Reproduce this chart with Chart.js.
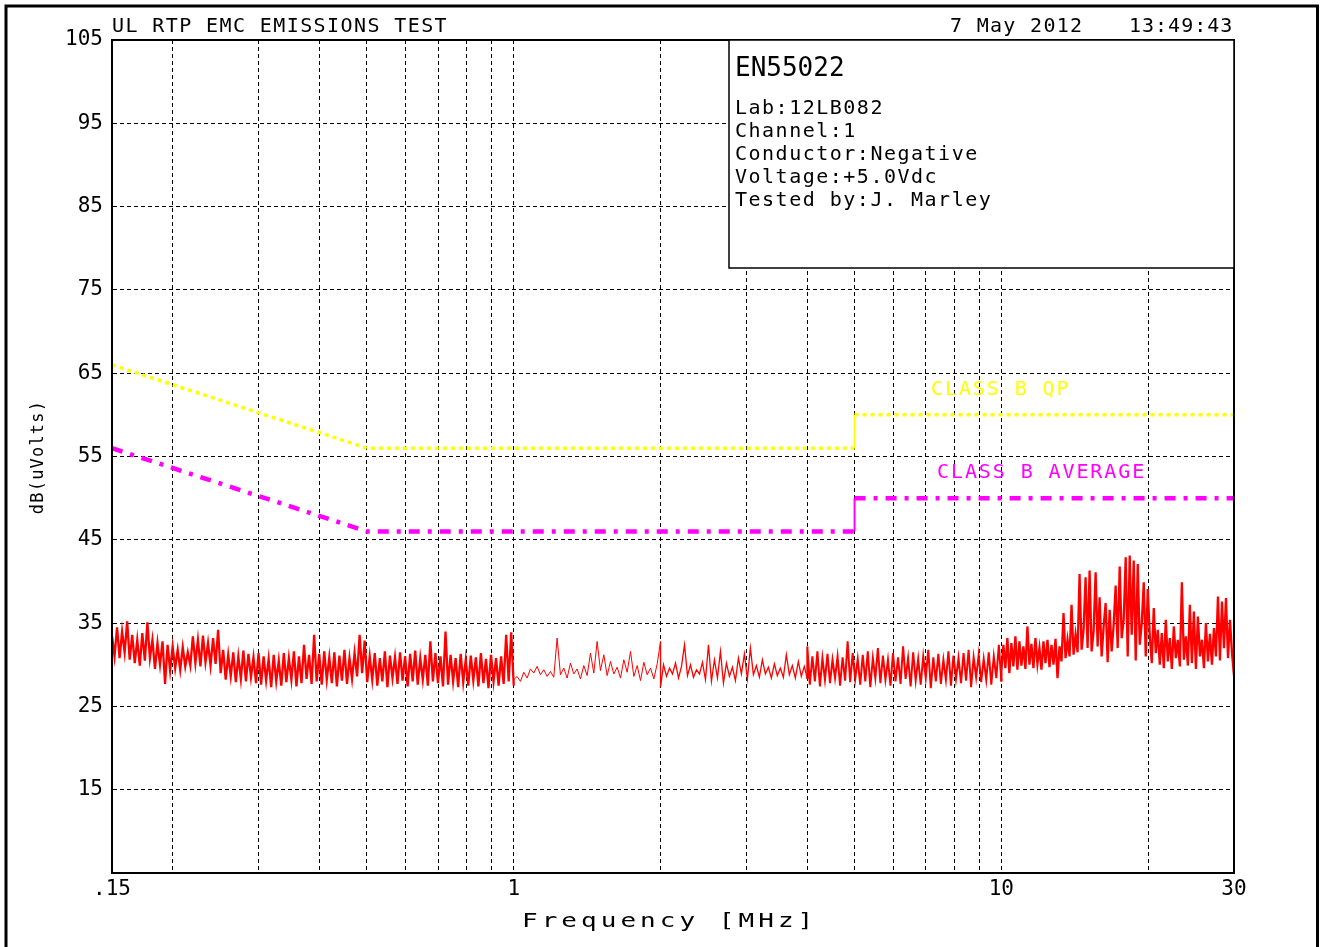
<!DOCTYPE html>
<html>
<head>
<meta charset="utf-8">
<title>UL RTP EMC Emissions Test</title>
<script src="https://cdn.jsdelivr.net/npm/chart.js@4.4.1/dist/chart.umd.min.js"></script>
<style>
    html, body { margin: 0; padding: 0; background: #fff; }
    canvas { display: block; }
</style>
</head>
<body>
<canvas id="emcChart" width="1320" height="947"></canvas>
<script>
const sweepEdges = [0.15, 1.0, 2.0, 4.0, 10.0, 30.0];

const levels015to1 = [
    33.5, 31.0, 34.5, 30.8, 34.0, 31.5, 35.2, 30.6,
    33.6, 30.2, 33.0, 29.9, 33.8, 30.5,
    35.1, 30.8,
    33.0, 29.5, 32.6, 30.0, 32.8, 27.7, 32.4, 29.3,
    32.2, 29.6, 31.8, 29.4, 32.1, 29.8, 31.5,
    29.9, 33.4, 30.2, 33.0, 29.8, 33.5, 30.3, 32.6, 29.9, 33.2, 30.1, 34.2,
    29.0, 31.8, 28.2, 31.2, 28.6, 31.5, 27.9, 31.0, 28.3, 31.7, 28.0, 31.3, 28.5, 30.9, 27.8, 31.4,
    27.6, 31.0, 28.1, 30.7, 27.3, 31.2, 28.0, 30.5, 27.5, 31.4, 27.9, 30.8, 28.2, 31.6, 27.4, 31.0,
    27.8, 32.4, 28.3, 31.2, 27.7, 33.6,
    28.0, 31.3, 27.6, 31.6, 28.2, 30.9, 27.8, 31.5, 27.4, 31.1, 28.1, 31.8, 27.7, 30.8, 28.3, 31.4, 28.6,
    33.6, 29.0, 32.9,
    27.9, 31.0, 28.2, 31.4, 27.5, 30.8, 28.0, 31.6, 27.3, 31.1, 28.4, 30.9, 27.7, 31.5, 28.1, 31.0,
    27.4, 31.3, 28.0, 31.7, 27.6, 30.8, 28.2, 31.2, 27.5, 32.8, 28.0, 31.4, 27.8, 31.0, 27.4, 34.0,
    27.6, 31.2, 28.0, 30.8, 27.3, 31.3, 27.9, 30.6, 27.5, 31.1, 28.1, 30.9, 27.4, 31.4, 27.8, 30.7,
    27.2, 31.2, 28.0, 30.8, 27.5, 31.0, 27.7,
    33.6, 28.0, 33.9, 27.5
];

const levels1to2 = [
    28.2, 28.6, 28.0, 29.1, 28.4, 29.5, 29.0, 29.8, 28.8, 29.4, 28.6, 29.2,
    28.5, 33.2, 28.8,
    29.6, 28.4, 30.2, 28.9, 29.5, 28.3, 29.9, 28.7,
    31.4, 29.0, 32.8, 29.3, 31.2,
    28.7, 30.4, 28.9, 29.7, 28.4, 30.6, 29.1, 31.6,
    28.6, 29.9, 28.1, 30.3, 28.8, 29.6, 28.3, 30.1, 32.8
];

const levels2to4 = [
    27.3, 30.0, 28.6, 29.6, 28.9, 30.2, 28.4, 29.8, 32.4, 28.7,
    30.0, 28.5, 29.4, 28.9, 30.3, 28.2, 32.4, 28.0, 30.6, 28.4,
    31.6, 27.8, 30.2, 28.6, 29.7, 28.1, 30.8, 28.9, 31.3, 28.3,
    32.0, 28.8, 29.9, 28.5, 30.6, 28.9, 29.7, 28.4, 30.1, 28.7,
    29.6, 28.5, 31.2, 28.8, 29.9, 28.4, 30.4, 28.6, 29.8, 28.3
];

const levels4to10 = [
    32.2, 27.6, 31.0, 28.0, 31.6, 27.4, 30.8, 28.2, 31.3, 27.8, 30.6, 28.4, 31.0, 27.5, 30.9, 28.1, 32.8, 27.9, 31.4, 28.3,
    30.7, 27.6, 31.2, 28.0, 31.6, 27.3, 30.8, 28.4, 32.0, 27.8, 31.1, 28.2, 30.6, 27.5, 31.4, 28.0, 30.9, 27.7, 32.2, 28.3,
    30.8, 27.4, 31.5, 28.1, 30.7, 27.6, 31.0, 28.4, 31.8, 27.2, 30.9, 28.0, 31.3, 27.7, 30.6, 28.2, 31.6, 27.5, 31.1, 28.3,
    30.8, 27.8, 31.4, 28.1, 31.8, 27.3, 30.9, 28.5, 31.2, 27.9, 30.7, 28.2, 31.5, 27.6, 31.0, 28.4, 32.4, 28.0
];

const levels10to30 = [
    29.2, 32.4, 29.6, 33.2, 29.0, 32.6, 29.8, 33.4, 29.4,
    32.8, 29.9, 32.2, 29.5, 34.6, 30.0,
    32.5, 29.6, 33.2, 30.1, 32.0, 29.4, 32.8, 30.2, 33.0, 29.7, 32.4, 30.0, 33.1, 28.4, 32.2,
    30.4, 36.2, 30.8, 33.0, 31.0, 37.2, 31.2, 33.6, 31.5,
    40.9, 31.8, 34.2, 40.5, 32.0, 41.3, 31.6, 34.0, 41.1, 32.2,
    38.1, 31.0, 34.6, 37.4, 30.3, 36.6, 31.6,
    34.8, 39.5, 32.0, 41.8, 33.2, 35.4, 42.9, 31.0, 43.1, 33.6, 42.5, 30.5, 42.1, 32.4,
    35.0, 39.9, 31.0, 39.1, 33.5, 30.2, 36.8, 31.4, 34.2,
    30.0, 33.8, 29.6, 35.4, 30.4, 33.2, 29.5, 34.6, 30.8, 33.0, 29.8,
    39.9, 30.6, 33.4, 29.9,
    37.2, 30.2, 36.4, 29.5, 35.8, 31.0, 33.0, 29.6,
    35.0, 30.4, 33.7, 30.0, 34.4,
    31.0, 38.2, 30.5, 37.6, 32.0, 38.0, 30.8, 35.4, 31.4, 28.7
];

// EN55022 class B limits
const limitFreq = [0.15, 0.5, 5, 5, 30];
const qpLimit = [66, 56, 56, 60, 60];
const avgLimit = [56, 46, 46, 50, 50];

// Axis ticks
const gridFreqs = [0.15, 0.2, 0.3, 0.4, 0.5, 0.6, 0.7, 0.8, 0.9, 1, 2, 3, 4, 5, 6, 7, 8, 9, 10, 20, 30];
const freqLabels = { 0.15: '.15', 1: '1', 10: '10', 30: '30' };

const FONT = "'DejaVu Sans Mono', monospace";

function sweep(fStart, fStop, levels) {
    const n = levels.length;
    return levels.map((v, i) => ({
        x: fStart * Math.pow(fStop / fStart, i / (n - 1)),
        y: v
    }));
}

function buildTrace() {
    const parts = [levels015to1, levels1to2, levels2to4, levels4to10, levels10to30];
    let pts = [];
    parts.forEach((lv, i) => {
        pts = pts.concat(sweep(sweepEdges[i], sweepEdges[i + 1], lv));
    });
    return pts;
}

function limitPoints(levels) {
    return limitFreq.map((f, i) => ({ x: f, y: levels[i] }));
}

// trace looks thicker where the sweep is dense
function traceWidth(c) {
    const f = c.p0.parsed.x;
    if (f < 1) return 2.3;
    if (f < 2) return 1;
    if (f < 4) return 1.3;
    if (f < 10) return 2;
    return 2.3;
}

function drawText(ctx, txt, x, y, size, spacing, color) {
    ctx.font = size + 'px ' + FONT;
    ctx.letterSpacing = spacing + 'px';
    ctx.fillStyle = color;
    ctx.fillText(txt, x, y);
}

const decorations = {
    id: 'decorations',
    beforeDraw(chart) {
        const ctx = chart.ctx;
        ctx.save();
        ctx.fillStyle = '#fff';
        ctx.fillRect(0, 0, chart.width, chart.height);
        ctx.restore();
    },
    afterDraw(chart) {
        const ctx = chart.ctx;
        const a = chart.chartArea;
        ctx.save();
        ctx.textBaseline = 'alphabetic';
        ctx.textAlign = 'left';

        // plot frame
        ctx.strokeStyle = '#000';
        ctx.lineWidth = 2;
        ctx.strokeRect(a.left, a.top, a.right - a.left, a.bottom - a.top);

        // info box
        ctx.fillStyle = '#fff';
        ctx.fillRect(729, a.top, a.right - 729, 228);
        ctx.lineWidth = 1.5;
        ctx.strokeRect(729, a.top, a.right - 729, 228);

        drawText(ctx, 'EN55022', 735, 76, 26, 0, '#000');
        const info = ['Lab:12LB082', 'Channel:1', 'Conductor:Negative', 'Voltage:+5.0Vdc', 'Tested by:J. Marley'];
        info.forEach((t, i) => drawText(ctx, t, 735, 114 + i * 23, 20, 1.5, '#000'));

        // header
        drawText(ctx, 'UL RTP EMC EMISSIONS TEST', 112, 32, 20, 1.4, '#000');
        drawText(ctx, '7 May 2012', 950, 32, 20, 1.3, '#000');
        drawText(ctx, '13:49:43', 1129, 32, 20, 1.0, '#000');

        // limit labels
        drawText(ctx, 'CLASS B QP', 931, 395, 20, 1.9, '#ffff00');
        drawText(ctx, 'CLASS B AVERAGE', 937, 478, 20, 1.9, '#ff00ff');

        // x axis title, wide glyphs
        ctx.save();
        ctx.translate(522, 927);
        ctx.scale(1.3, 1);
        drawText(ctx, 'Frequency [MHz]', 0, 0, 20, 3.1, '#000');
        ctx.restore();

        // y axis title
        ctx.translate(43, 457);
        ctx.rotate(-Math.PI / 2);
        ctx.textAlign = 'center';
        drawText(ctx, 'dB(uVolts)', 0, 0, 17, 1.2, '#000');
        ctx.restore();

        // outer border
        ctx.save();
        ctx.strokeStyle = '#000';
        ctx.lineWidth = 3;
        ctx.strokeRect(6, 6, 1311.5, 980);
        ctx.restore();
    }
};

function initializeChart() {
    const ctx = document.getElementById('emcChart').getContext('2d');
    new Chart(ctx, {
        type: 'line',
        data: {
            datasets: [{
                label: 'Class B QP',
                data: limitPoints(qpLimit),
                borderColor: '#ffff00',
                borderWidth: 3.5,
                borderDash: [4, 4],
                pointRadius: 0,
                segment: {
                    borderDash: c => c.p0.parsed.x === c.p1.parsed.x ? [] : undefined,
                    borderWidth: c => c.p0.parsed.x === c.p1.parsed.x ? 2 : undefined
                }
            }, {
                label: 'Class B Average',
                data: limitPoints(avgLimit),
                borderColor: '#ff00ff',
                borderWidth: 4.5,
                borderDash: [11, 8, 4, 8],
                pointRadius: 0,
                segment: {
                    borderDash: c => c.p0.parsed.x === c.p1.parsed.x ? [] : undefined,
                    borderWidth: c => c.p0.parsed.x === c.p1.parsed.x ? 2 : undefined
                }
            }, {
                label: 'Emissions',
                data: buildTrace(),
                borderColor: '#ff0000',
                borderWidth: 1.3,
                pointRadius: 0,
                tension: 0,
                segment: {
                    borderWidth: traceWidth
                }
            }]
        },
        options: {
            responsive: false,
            animation: false,
            devicePixelRatio: 1,
            layout: {
                padding: { left: 0, top: 40, right: 86, bottom: 0 }
            },
            plugins: {
                legend: { display: false },
                tooltip: { enabled: false }
            },
            scales: {
                x: {
                    type: 'logarithmic',
                    min: 0.15,
                    max: 30,
                    afterBuildTicks: scale => {
                        scale.ticks = gridFreqs.map(v => ({ value: v }));
                    },
                    afterFit: scale => { scale.height = 74; },
                    grid: {
                        color: '#000',
                        lineWidth: 1,
                        drawTicks: false
                    },
                    border: { display: true, color: '#000', width: 1, dash: [4, 3] },
                    ticks: {
                        autoSkip: false,
                        maxRotation: 0,
                        padding: 4,
                        color: '#000',
                        font: { family: FONT, size: 21 },
                        callback: value => freqLabels[value] || ''
                    }
                },
                y: {
                    min: 5,
                    max: 105,
                    afterFit: scale => { scale.width = 112; },
                    grid: {
                        color: '#000',
                        lineWidth: 1,
                        drawTicks: false
                    },
                    border: { display: true, color: '#000', width: 1, dash: [4, 3] },
                    ticks: {
                        stepSize: 10,
                        padding: 9,
                        color: '#000',
                        font: { family: FONT, size: 21 },
                        callback: value => value === 5 ? '' : value
                    }
                }
            }
        },
        plugins: [decorations]
    });
}

document.addEventListener('DOMContentLoaded', initializeChart);
</script>
</body>
</html>
